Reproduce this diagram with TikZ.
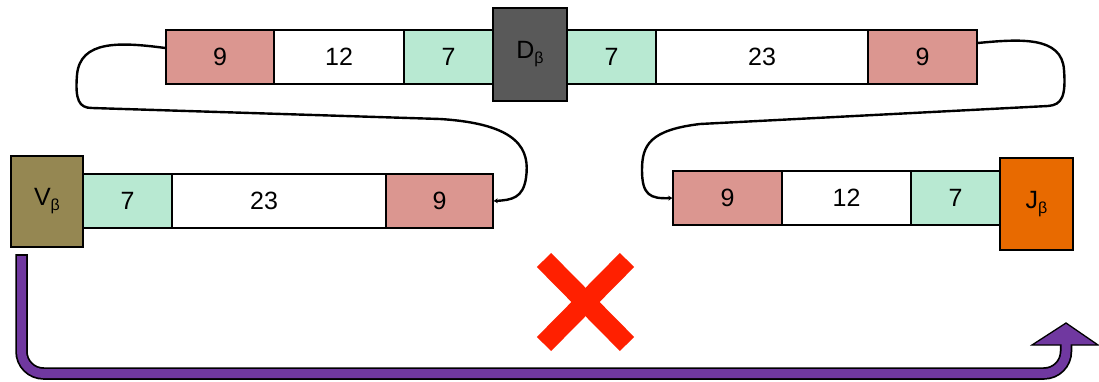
\documentclass[tikz,border=0pt]{standalone}
\usepackage{fontspec}
\setmainfont{Liberation Sans}
\usetikzlibrary{calc,arrows.meta}
\definecolor{redblk}{HTML}{DB9690}
\definecolor{grnblk}{HTML}{B8E9D2}
\definecolor{vcol}{HTML}{958752}
\definecolor{dcol}{HTML}{595959}
\definecolor{jcol}{HTML}{E86A00}
\definecolor{purp}{HTML}{7038A0}
\definecolor{xred}{HTML}{FF2000}
\newcommand{\gsub}[1]{#1\raisebox{-5pt}{\fontsize{16}{16}\selectfont β}}
\tikzset{
  blk/.style={draw=black, line width=1.5pt, rectangle, inner sep=0pt, minimum height=54pt,
    font=\fontsize{25}{29}\selectfont, text=black},
  gene/.style={draw=black, line width=1.5pt, rectangle, inner sep=0pt,
    font=\fontsize{25}{29}\selectfont, text=black},
  conn/.style={draw=black, line width=2.4pt, -{Stealth[length=4pt,width=5pt]}},
}
\begin{document}
\begin{tikzpicture}[x=1pt,y=-1pt]
\useasboundingbox (0,0) rectangle (1099,382);
% top row
\node[blk, fill=redblk, minimum width=108pt] (t9a) at (220,57) {9};
\node[blk, fill=white, minimum width=130pt] (t12a) at (339,57) {12};
\node[blk, fill=grnblk, minimum width=89pt] (t7a) at (448.5,57) {7};
\node[blk, fill=grnblk, minimum width=89pt] (t7b) at (611.5,57) {7};
\node[blk, fill=white, minimum width=212pt] (t23b) at (762,57) {23};
\node[blk, fill=redblk, minimum width=109pt] (t9b) at (922.5,57) {9};
\node[gene, fill=dcol, minimum width=74pt, minimum height=93pt] (D) at (530,54.5) {\raisebox{-3pt}{\gsub{D}}};
% lower left
\node[blk, fill=grnblk, minimum width=89pt] (l7) at (127.5,201) {7};
\node[blk, fill=white, minimum width=214pt] (l23) at (279,201) {\hspace*{-30pt}23};
\node[blk, fill=redblk, minimum width=107pt] (l9) at (439.5,201) {9};
\node[gene, fill=vcol, minimum width=72pt, minimum height=91pt] (V) at (47,201.5) {\raisebox{-6pt}{\gsub{V}}};
% lower right
\node[blk, fill=redblk, minimum width=109pt] (r9) at (727.5,198) {9};
\node[blk, fill=white, minimum width=129pt] (r12) at (846.5,198) {12};
\node[blk, fill=grnblk, minimum width=89pt] (r7) at (955.5,198) {7};
\node[gene, fill=jcol, minimum width=73pt, minimum height=92pt] (J) at (1036.5,204) {\raisebox{-6pt}{\gsub{J}}};
% connectors
\draw[conn] ($(t9a.west)+(0,-9)$) .. controls (120,42) and (80,40) .. (77,75)
  .. controls (75,100) and (79,108) .. (92,108) -- (440,119)
  .. controls (520,124) and (530,150) .. (526,178)
  .. controls (523,198) and (512,200) .. (l9.east);
\draw[conn] ($(t9b.east)+(0,-14)$) .. controls (1020,39) and (1062,36) .. (1064,70)
  .. controls (1066,96) and (1062,105) .. (1048,106) -- (700,124)
  .. controls (650,130) and (642,145) .. (642,170)
  .. controls (642,195) and (650,199) .. (r9.west);
% red cross
\draw[xred, line width=20pt] (544,260) -- (627,344);
\draw[xred, line width=20pt] (627,260) -- (544,344);
% purple arrow
\coordinate (aS) at (21.5,254);
\coordinate (aC1) at (21.5,373.5);
\coordinate (aC2) at (1066,373.5);
\coordinate (aE) at (1066,345);
\draw[black, line width=12.5pt, rounded corners=22pt] (aS) -- (aC1) -- (aC2) -- (aE);
\draw[fill=purp, draw=black, line width=1.3pt, line join=miter] (1032,345) -- (1066,323) -- (1098,345) -- cycle;
\draw[purp, line width=9pt, rounded corners=22pt] ($(aS)+(0,2)$) -- (aC1) -- (aC2) -- ($(aE)+(0,-3)$);
\end{tikzpicture}
\end{document}
